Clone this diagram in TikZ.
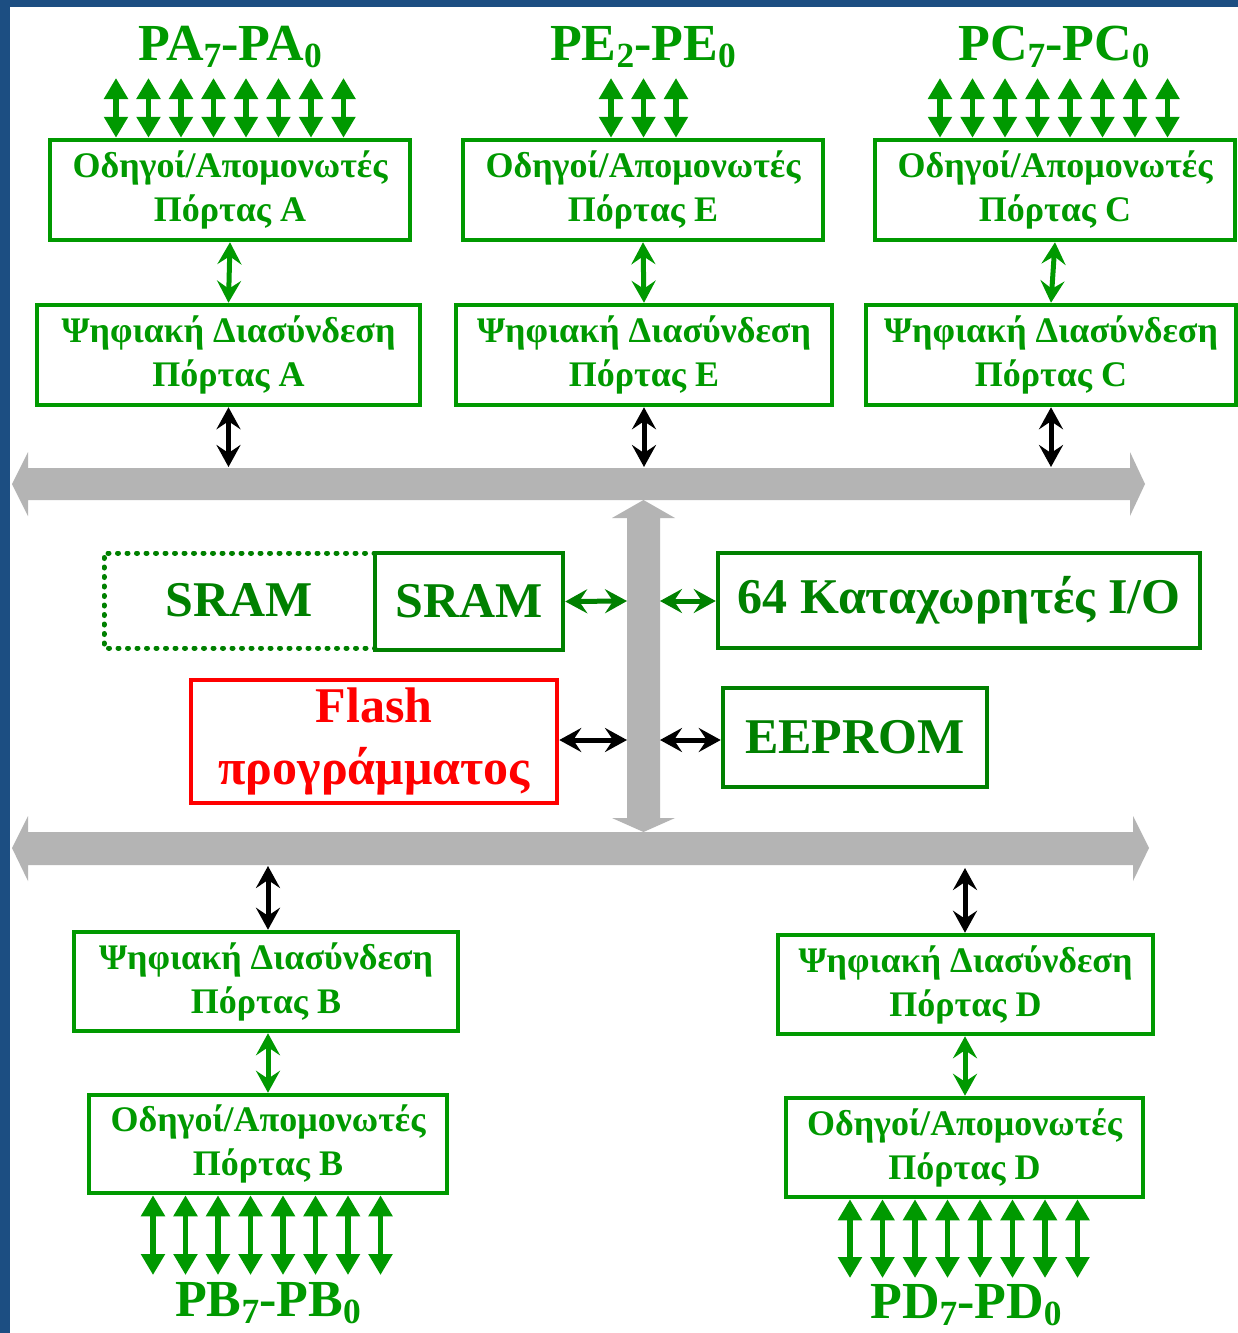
\documentclass[tikz,border=0pt]{standalone}
\usepackage{fontspec}
\setmainfont{Liberation Serif}
\usetikzlibrary{arrows.meta}
\definecolor{gbright}{RGB}{0,153,0}
\definecolor{gdark}{RGB}{0,128,0}
\definecolor{busgray}{RGB}{180,180,180}
\definecolor{edgeblue}{RGB}{28,78,130}
\newcommand{\lowsub}[1]{\raisebox{-0.14em}{\scalebox{0.68}{#1}}}
\begin{document}
\begin{tikzpicture}[x=1pt,y=-1pt,
  box/.style={draw=gbright, line width=4.5pt, inner sep=0pt, align=center, text=gbright,
    font=\fontsize{36}{44}\selectfont\bfseries},
  cbox/.style={draw=gdark, line width=4.5pt, inner sep=0pt, align=center, text=gdark,
    font=\fontsize{50}{62}\selectfont\bfseries},
  dotline/.style={draw=gdark, line width=5pt, dash pattern=on 1pt off 8.5pt, line cap=round},
  pin/.style={gbright, line width=5.5pt, {Triangle[length=21pt,width=23pt]}-{Triangle[length=21pt,width=23pt]}},
  lnk/.style={line width=5pt, {Stealth[length=22pt,width=24pt,inset=8pt]}-{Stealth[length=22pt,width=24pt,inset=8pt]}},
  lbl/.style={text=gbright, inner sep=0pt, anchor=base, font=\fontsize{52}{56}\selectfont\bfseries}]
\useasboundingbox (0,0) rectangle (1238,1333);
\fill[white] (0,0) rectangle (1238,1333);
\fill[edgeblue] (0,0) rectangle (10,1333);
\fill[edgeblue] (0,0) rectangle (1238,7);

% buses
\fill[busgray] (12,484) -- (28,452) -- (28,468) -- (1130,468) -- (1130,452) -- (1145,484)
  -- (1130,516) -- (1130,500) -- (28,500) -- (28,516) -- cycle;
\fill[busgray] (12,848) -- (28,816) -- (28,832) -- (1133,832) -- (1133,816) -- (1149,848)
  -- (1133,881) -- (1133,865) -- (28,865) -- (28,881) -- cycle;
\fill[busgray] (643.5,500) -- (675,518) -- (660,518) -- (660,818) -- (675,818) -- (643.5,832)
  -- (612,818) -- (627,818) -- (627,518) -- (612,518) -- cycle;
\coordinate (busTtop) at (643,467);
\coordinate (busBbot) at (643,866);
\coordinate (vbL1) at (627,601);
\coordinate (vbR1) at (660,601);
\coordinate (vbL2) at (627,740);
\coordinate (vbR2) at (660,740);

% top boxes
\node[box, minimum width=360pt, minimum height=100pt] (drvA) at (230,190) {Οδηγοί/Απομονωτές\\Πόρτας A};
\node[box, minimum width=360pt, minimum height=100pt] (drvE) at (643,190) {Οδηγοί/Απομονωτές\\Πόρτας E};
\node[box, minimum width=360pt, minimum height=100pt] (drvC) at (1055,190) {Οδηγοί/Απομονωτές\\Πόρτας C};
\node[box, minimum width=383pt, minimum height=100pt] (digA) at (228.5,355) {Ψηφιακή Διασύνδεση\\Πόρτας A};
\node[box, minimum width=376pt, minimum height=100pt] (digE) at (644,355) {Ψηφιακή Διασύνδεση\\Πόρτας E};
\node[box, minimum width=370pt, minimum height=100pt] (digC) at (1051,355) {Ψηφιακή Διασύνδεση\\Πόρτας C};

% labels top
\node[lbl] (lblA) at (230,60) {PA\lowsub{7}-PA\lowsub{0}};
\node[lbl] (lblE) at (643,60) {PE\lowsub{2}-PE\lowsub{0}};
\node[lbl] (lblC) at (1054,60) {PC\lowsub{7}-PC\lowsub{0}};

\foreach \i in {0,...,7} {
  \draw[pin] ({116+32.5*\i},78) -- ({116+32.5*\i},78 |- drvA.north);
  \draw[pin] ({940+32.5*\i},78) -- ({940+32.5*\i},78 |- drvC.north);
}
\foreach \i in {0,1,2} {
  \draw[pin] ({611+32.5*\i},78) -- ({611+32.5*\i},78 |- drvE.north);
}

\draw[lnk, gbright] (drvA.south) -- (digA.north);
\draw[lnk, gbright] (drvE.south) -- (digE.north);
\draw[lnk, gbright] (drvC.south) -- (digC.north);
\draw[lnk, black] (digA.south) -- (digA.south |- busTtop);
\draw[lnk, black] (digE.south) -- (digE.south |- busTtop);
\draw[lnk, black] (digC.south) -- (digC.south |- busTtop);

% center
\node[cbox, draw=none, outer sep=0pt, minimum width=271pt, minimum height=95pt] (sramx) at (239.5,600.5) {SRAM};
\draw[dotline] (sramx.north east) -- (sramx.north west) -- (sramx.south west) -- (sramx.south east);
\node[cbox, minimum width=188pt, minimum height=97pt] (sram) at (469,601.5) {SRAM};
\node[cbox, minimum width=482pt, minimum height=95pt] (reg) at (959,600.5) {64 Καταχωρητές I/O};
\node[cbox, draw=red, text=red, minimum width=366pt, minimum height=123pt] (flash) at (374,741.5) {Flash\\προγράμματος};
\node[cbox, minimum width=264pt, minimum height=99pt] (eeprom) at (855,737.5) {EEPROM};

\draw[lnk, gdark] (sram.east) -- (vbL1);
\draw[lnk, gdark] (vbR1) -- (reg.west |- vbR1);
\draw[lnk, black] (flash.east |- vbL2) -- (vbL2);
\draw[lnk, black] (vbR2) -- (eeprom.west |- vbR2);

% bottom
\node[box, minimum width=384pt, minimum height=99pt] (digB) at (266,981.5) {Ψηφιακή Διασύνδεση\\Πόρτας B};
\node[box, minimum width=375pt, minimum height=99pt] (digD) at (965.5,984.5) {Ψηφιακή Διασύνδεση\\Πόρτας D};
\node[box, minimum width=358pt, minimum height=98pt] (drvB) at (268,1144) {Οδηγοί/Απομονωτές\\Πόρτας B};
\node[box, minimum width=357pt, minimum height=99pt] (drvD) at (964.5,1147.5) {Οδηγοί/Απομονωτές\\Πόρτας D};

\draw[lnk, black] (268,866) -- (268,866 |- digB.north);
\draw[lnk, black] (965,868) -- (965,868 |- digD.north);
\draw[lnk, gbright] (digB.south -| 268,0) -- (drvB.north -| 268,0);
\draw[lnk, gbright] (digD.south -| 965,0) -- (drvD.north -| 965,0);

\foreach \i in {0,...,7} {
  \draw[pin] ({153+32.5*\i},1275) -- ({153+32.5*\i},1275 |- drvB.south);
  \draw[pin] ({850+32.5*\i},1278) -- ({850+32.5*\i},1278 |- drvD.south);
}
\node[lbl] (lblB) at (268,1316) {PB\lowsub{7}-PB\lowsub{0}};
\node[lbl] (lblD) at (966,1318) {PD\lowsub{7}-PD\lowsub{0}};
\end{tikzpicture}
\end{document}
